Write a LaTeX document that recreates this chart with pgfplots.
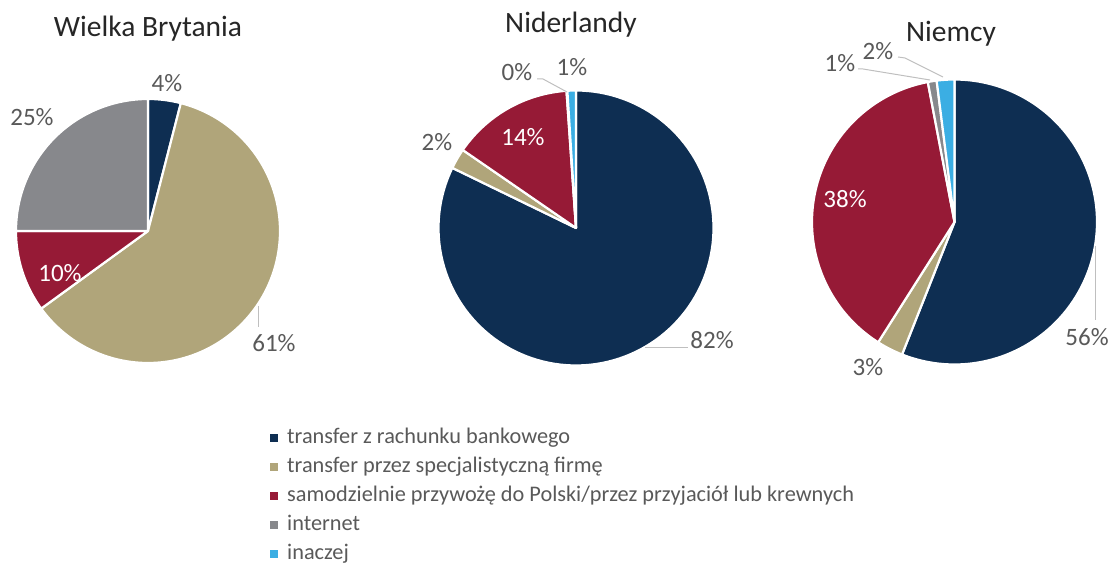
\documentclass[border=0pt]{standalone}
\usepackage{pgfplots}
\usepackage{pgfplotstable}
\pgfplotsset{compat=1.18}
\usepackage{fontspec}
\setmainfont{Carlito}
\definecolor{cbank}{HTML}{0E2E52}
\definecolor{cfirm}{HTML}{B0A57A}
\definecolor{cself}{HTML}{961A36}
\definecolor{cnet}{HTML}{87888C}
\definecolor{cother}{HTML}{3BAEE3}
\definecolor{txt}{HTML}{595959}
\definecolor{ttl}{HTML}{262626}
\definecolor{lead}{HTML}{BFBFBF}

\pgfplotstableread{
share col
4 cbank
61 cfirm
10 cself
25 cnet
0 cother
}\dataUK
\pgfplotstableread{
share col
82.2 cbank
2.4 cfirm
14.3 cself
0.1 cnet
1.0 cother
}\dataNL
\pgfplotstableread{
share col
56 cbank
3 cfirm
38 cself
1 cnet
2 cother
}\dataDE

% #1 table, #2 cx, #3 cy, #4 r
\newcommand\drawpie[4]{%
  \pgfplotstablegetrowsof{#1}%
  \pgfmathtruncatemacro\nrows{\pgfplotsretval-1}%
  \def\tot{0}%
  \pgfplotsforeachungrouped \i in {0,...,\nrows}{%
    \pgfplotstablegetelem{\i}{share}\of{#1}\let\val\pgfplotsretval
    \pgfmathsetmacro\tot{\tot+\val}%
  }%
  \def\cum{0}%
  \pgfplotsforeachungrouped \i in {0,...,\nrows}{%
    \pgfplotstablegetelem{\i}{share}\of{#1}\let\val\pgfplotsretval
    \pgfplotstablegetelem{\i}{col}\of{#1}\let\col\pgfplotsretval
    \pgfmathsetmacro\angA{90-((\cum+\val)/\tot)*360}%
    \pgfmathsetmacro\angB{90-(\cum/\tot)*360}%
    \pgfmathsetmacro\cum{\cum+\val}%
    \ifdim\val pt>0pt
      \edef\tmp{\noexpand\addplot[fill=\col, draw=white, line width=2.2pt, line join=round, domain=\angA:\angB, samples=120] ({#2+#4*cos(x)},{#3+#4*sin(x)}) -- (axis cs:#2,#3) -- cycle;}%
      \tmp
    \fi
  }%
}

\begin{document}
\begin{tikzpicture}[x=1pt,y=1pt]
\useasboundingbox (0,0) rectangle (1111,567);
\begin{axis}[
  at={(0,0)}, anchor=south west,
  width=1111pt, height=567pt, scale only axis,
  xmin=0, xmax=1111, ymin=0, ymax=567,
  hide axis, clip=false,
  legend image code/.code={\fill[#1] (0pt,-4pt) rectangle (8pt,4pt);},
  legend style={at={(axis cs:270,142)}, anchor=north west, draw=none, fill=none,
    font=\fontsize{22.3}{26}\selectfont, text=txt, row sep=4pt, column sep=7pt,
    inner sep=0pt, nodes={inner sep=2pt, text height=16pt, text depth=5pt},
    cells={anchor=west}},
]
\addlegendimage{fill=cbank, draw=none}
\addlegendentry{transfer z rachunku bankowego}
\addlegendimage{fill=cfirm, draw=none}
\addlegendentry{transfer przez specjalistyczną firmę}
\addlegendimage{fill=cself, draw=none}
\addlegendentry{samodzielnie przywożę do Polski/przez przyjaciół lub krewnych}
\addlegendimage{fill=cnet, draw=none}
\addlegendentry{internet}
\addlegendimage{fill=cother, draw=none}
\addlegendentry{inaczej}

\drawpie{\dataUK}{148}{336}{132}
\drawpie{\dataNL}{576}{339}{137.5}
\drawpie{\dataDE}{954.5}{345}{142.5}

% leader lines
\addplot[lead, line width=1pt, forget plot] coordinates {(258,261) (258,240)};
\addplot[lead, line width=1pt, forget plot] coordinates {(537,488) (543,488) (567,475)};
\addplot[lead, line width=1pt, forget plot] coordinates {(645,219) (688,219)};
\addplot[lead, line width=1pt, forget plot] coordinates {(858,498) (863,498) (930,487)};
\addplot[lead, line width=1pt, forget plot] coordinates {(898,510) (905,509) (943,490)};
\addplot[lead, line width=1pt, forget plot] coordinates {(1095,321) (1095,247)};

% titles
\begin{scope}[every node/.style={font=\fontsize{29.5}{34}\selectfont, text=ttl, anchor=base, inner sep=0pt}]
\node at (axis cs:148,530) {Wielka Brytania};
\node at (axis cs:571,534) {Niderlandy};
\node at (axis cs:951,525) {Niemcy};
\end{scope}

% data labels
\begin{scope}[every node/.style={font=\fontsize{25}{29}\selectfont, text=txt, inner sep=0pt}]
\node at (axis cs:167,484) {4\%};
\node at (axis cs:32,450) {25\%};
\node[text=white] at (axis cs:60,294) {10\%};
\node at (axis cs:274,224) {61\%};
\node at (axis cs:517,495) {0\%};
\node at (axis cs:572,500) {1\%};
\node at (axis cs:437,425) {2\%};
\node[text=white] at (axis cs:523,430) {14\%};
\node at (axis cs:712,227) {82\%};
\node at (axis cs:840,504) {1\%};
\node at (axis cs:878,516) {2\%};
\node[text=white] at (axis cs:845,368) {38\%};
\node at (axis cs:868,200) {3\%};
\node at (axis cs:1087,230) {56\%};
\end{scope}
\end{axis}
\end{tikzpicture}
\end{document}
